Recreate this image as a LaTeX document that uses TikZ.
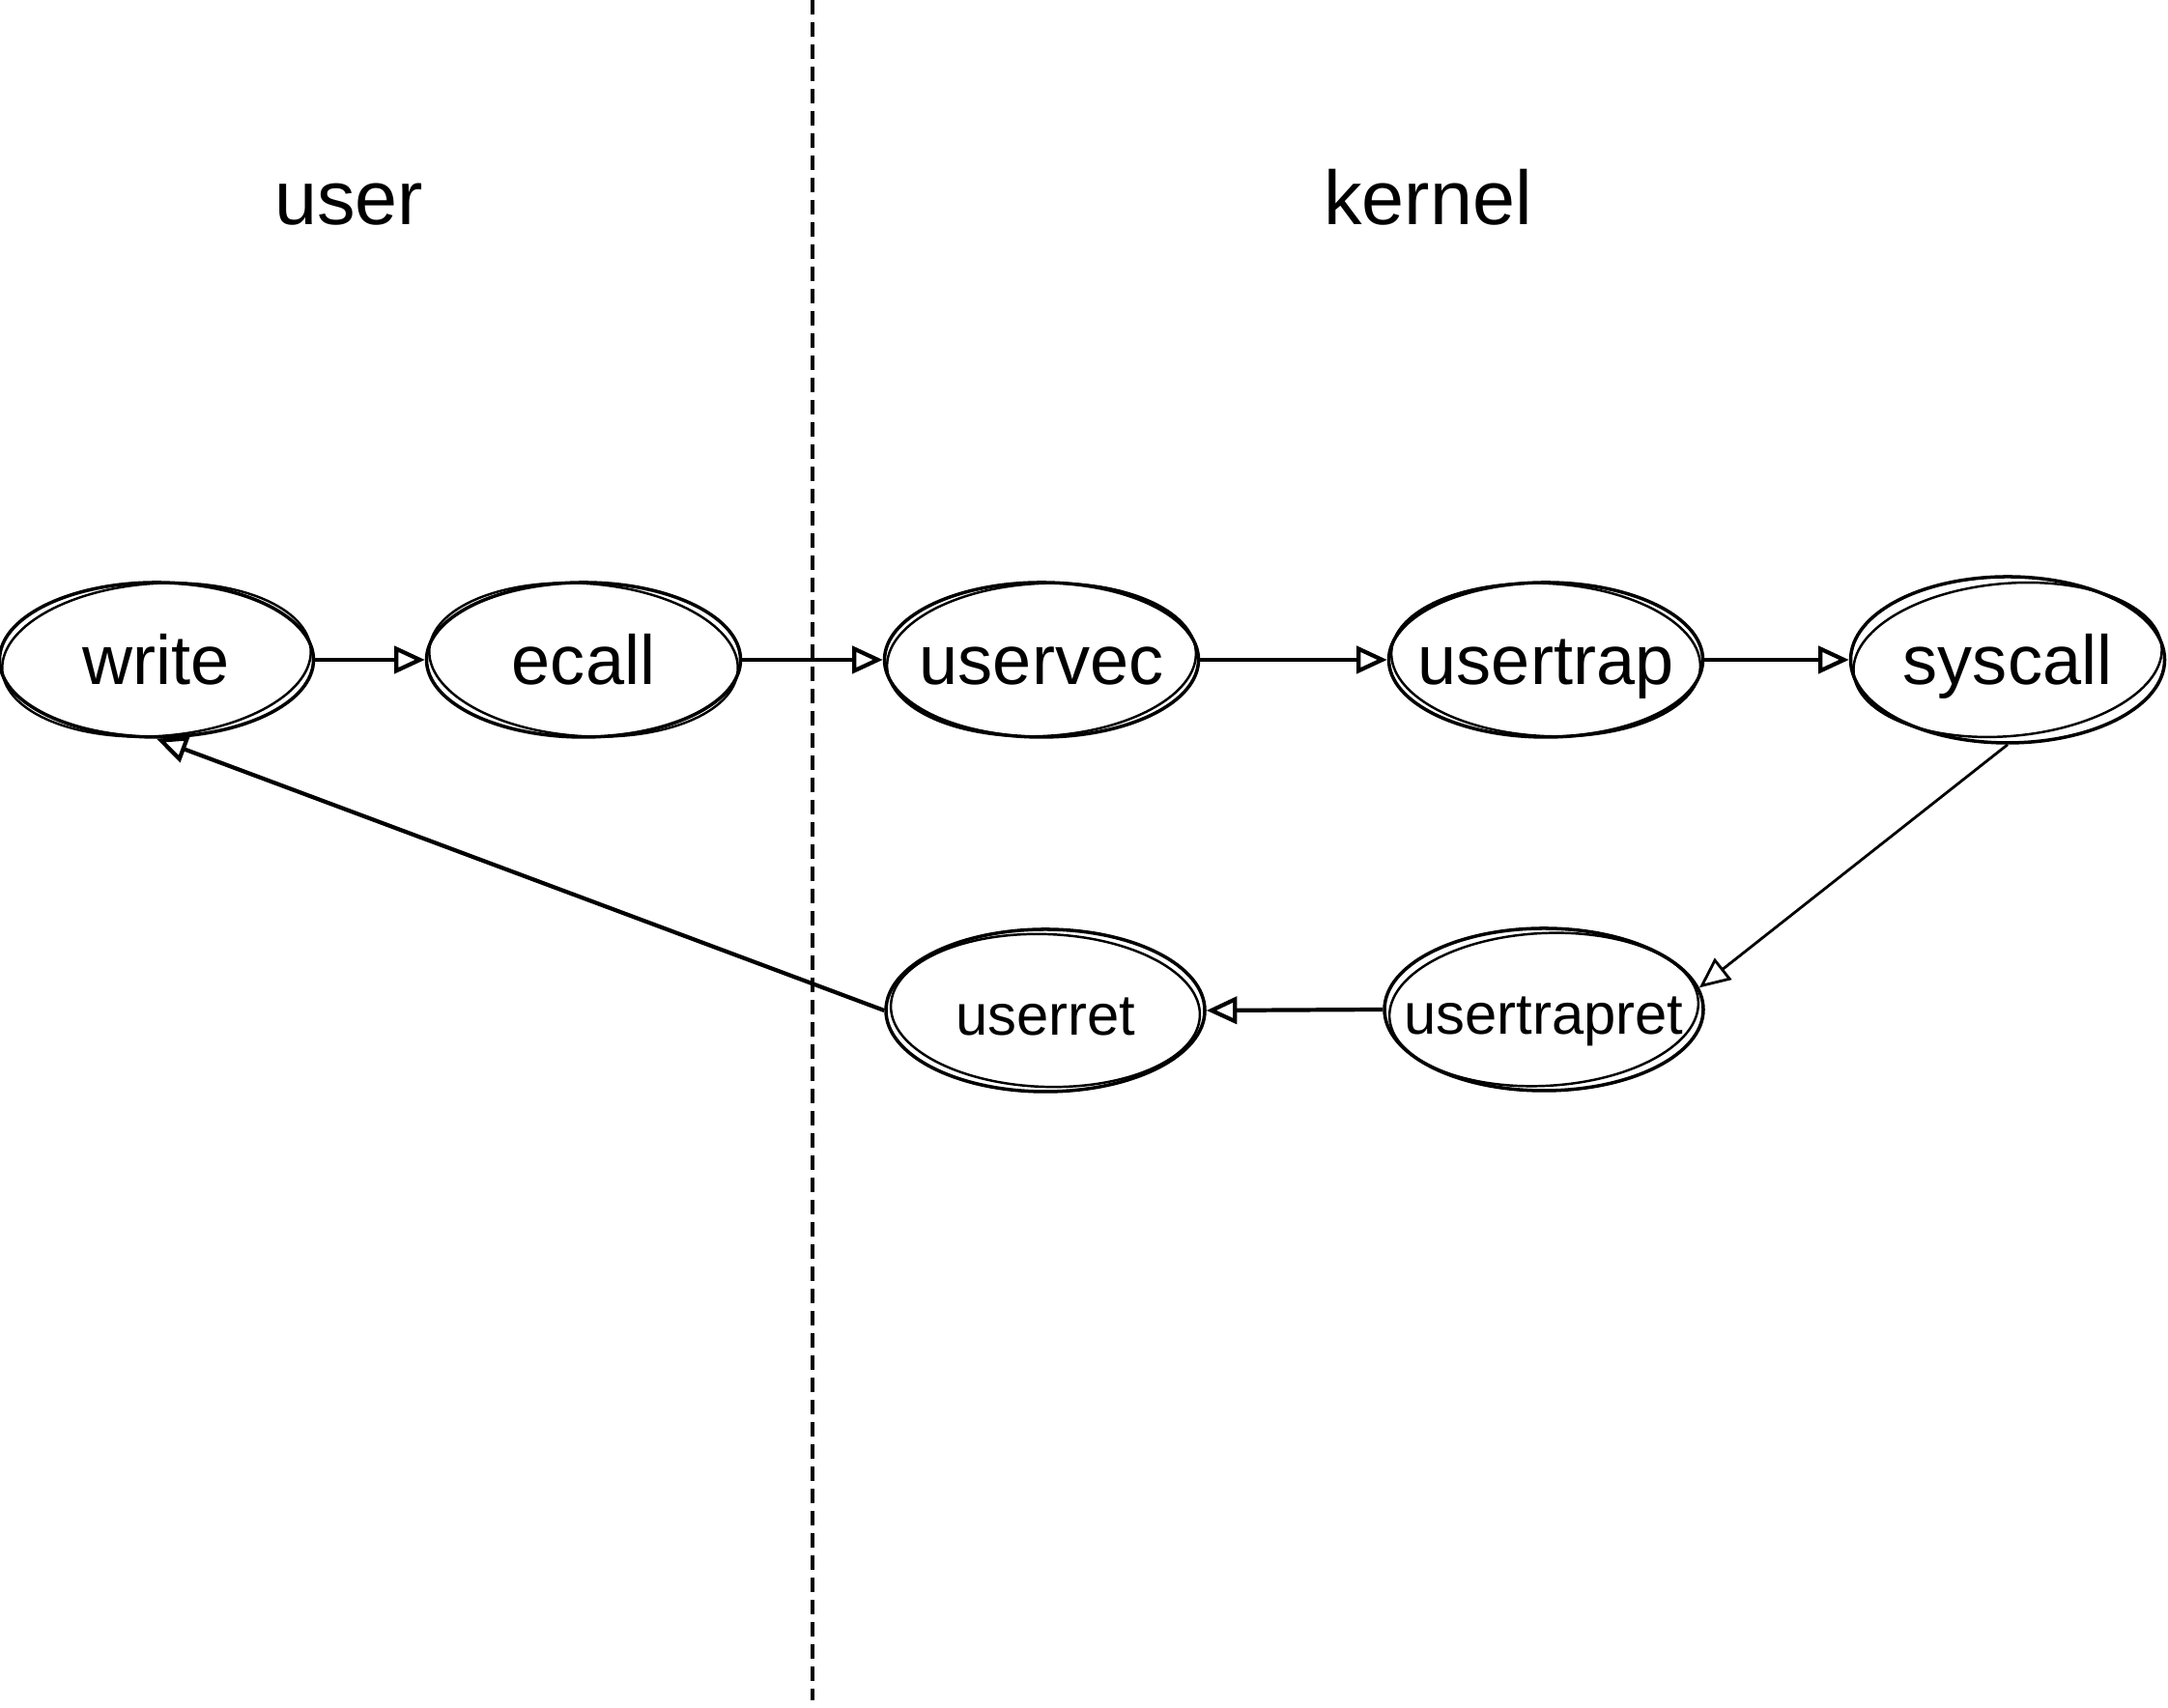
\documentclass[tikz,border=0pt]{standalone}
\usepackage{fontspec}
\setmainfont{Liberation Sans}
\usetikzlibrary{shapes.geometric,arrows.meta}

\tikzset{
  proc/.style={ellipse,draw,line width=1pt,minimum width=3.25cm,minimum height=1.6cm,
    inner ysep=0pt,inner xsep=-0.4cm,font=\fontsize{20.5}{24}\selectfont,text height=14.4pt,text depth=0pt},
  procsmall/.style={proc,minimum height=1.68cm,minimum width=3.3cm,font=\fontsize{17}{20}\selectfont},
  sketch/.style={line width=0.7pt},
  flow/.style={-{Triangle[open,length=9pt,width=8pt]},line width=1.2pt},
  thinflow/.style={-{Triangle[open,length=9pt,width=8pt]},line width=0.8pt},
  side/.style={font=\fontsize{22.5}{26}\selectfont,anchor=base}
}

\begin{document}
\begin{tikzpicture}
\useasboundingbox (0,0) rectangle (22.44,17.68);

% divider
\draw[line width=0.9pt,dash pattern=on 0.15cm off 0.08cm] (8.41,17.68) -- (8.41,0.08);
\node[side] (usr) at (3.61,15.35) {user};
\node[side] (krn) at (14.78,15.35) {kernel};

% top row
\node[proc] (write) at (1.62,10.85) {write};
\node[proc] (ecall) at (6.04,10.85) {ecall};
\node[proc] (uservec) at (10.78,10.85) {uservec};
\node[proc] (usertrap) at (16.00,10.85) {usertrap};
\node[proc,minimum height=1.72cm] (syscall) at (20.78,10.85) {syscall};

% bottom row
\node[procsmall] (userret) at (10.82,7.22) {userret};
\node[procsmall] (usertrapret) at (15.98,7.23) {usertrapret};

% second pencil stroke
\foreach \n/\a in {write/4,ecall/-4,uservec/3,usertrap/-3,syscall/5,userret/-2,usertrapret/3}
  \draw[sketch] (\n.center) ellipse [x radius=1.6cm,y radius=0.79cm,rotate=\a];

\draw[flow] (write.east) -- (ecall.west);
\draw[flow] (ecall.east) -- (uservec.west);
\draw[flow] (uservec.east) -- (usertrap.west);
\draw[flow] (usertrap.east) -- (syscall.west);
\draw[thinflow] (syscall.south) -- (usertrapret.8);
\draw[flow] (usertrapret.west) -- (userret.east);
\draw[flow] (userret.west) -- (write.south);
\end{tikzpicture}
\end{document}
